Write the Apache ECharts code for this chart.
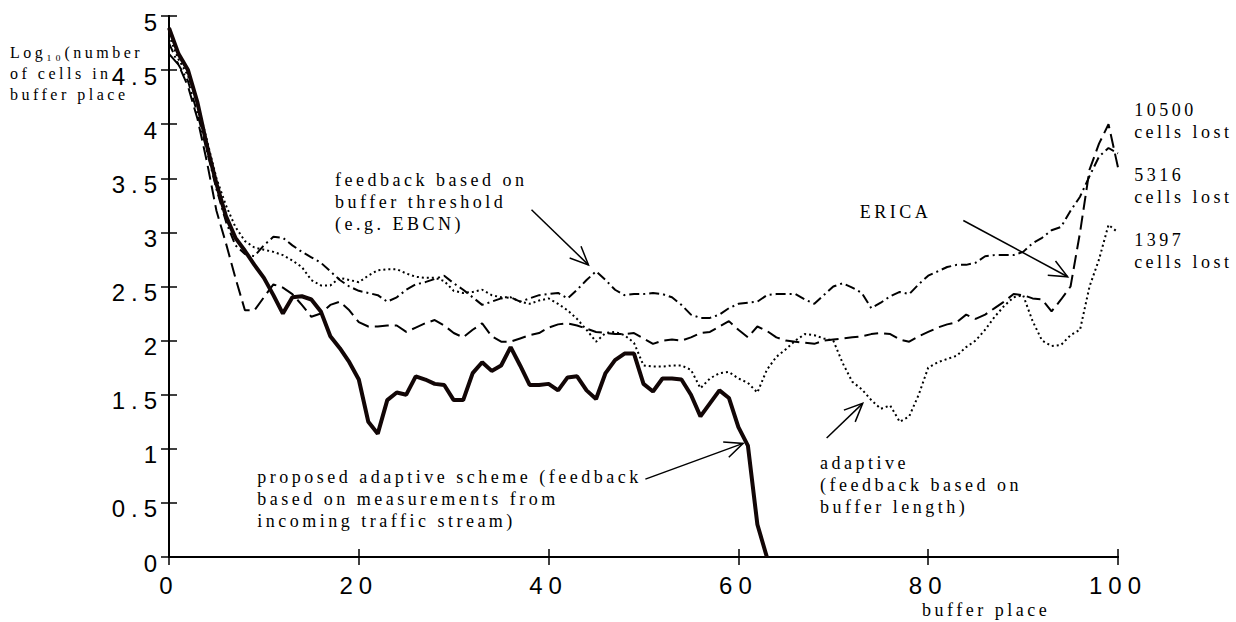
<!DOCTYPE html>
<html lang="en">
<head>
<meta charset="UTF-8">
<title>buffer place</title>
<script src="https://cdn.jsdelivr.net/npm/echarts@6/dist/echarts.min.js"></script>
<style>
  html, body { margin: 0; padding: 0; background: #fff; }
  #main { width: 1236px; height: 622px; }
  /* the original figure has wide letter spacing everywhere */
  #main text { letter-spacing: 3.5px; }
  #main text[style*="Liberation Sans"] { letter-spacing: 6px; }
</style>
</head>
<body>
<div id="main"></div>
<script>
// log10(number of cells) per buffer place, x = index
var proposed = [4.89, 4.65, 4.5, 4.2, 3.8, 3.45, 3.15, 2.95, 2.83, 2.7, 2.58, 2.42, 2.25, 2.4, 2.41,
  2.38, 2.27, 2.04, 1.93, 1.8, 1.64, 1.25, 1.14, 1.45, 1.52, 1.5, 1.67, 1.64, 1.6, 1.59,
  1.45, 1.45, 1.7, 1.8, 1.72, 1.77, 1.94, 1.77, 1.59, 1.59, 1.6, 1.54, 1.66, 1.67, 1.54,
  1.46, 1.7, 1.82, 1.88, 1.88, 1.6, 1.53, 1.65, 1.65, 1.64, 1.5, 1.3, 1.42, 1.54, 1.47,
  1.2, 1.03, 0.3, 0];
var adaptive = [4.82, 4.6, 4.45, 4.2, 3.85, 3.5, 3.25, 3.05, 2.92, 2.86, 2.84, 2.82, 2.79, 2.74, 2.68,
  2.56, 2.51, 2.51, 2.58, 2.56, 2.54, 2.6, 2.65, 2.66, 2.66, 2.62, 2.59, 2.58, 2.58, 2.55,
  2.46, 2.44, 2.45, 2.47, 2.42, 2.4, 2.4, 2.36, 2.34, 2.37, 2.39, 2.34, 2.28, 2.2, 2.1,
  1.99, 2.07, 2.08, 2.05, 1.98, 1.77, 1.76, 1.76, 1.77, 1.77, 1.73, 1.56, 1.65, 1.7, 1.71,
  1.65, 1.61, 1.52, 1.73, 1.85, 1.92, 2.0, 2.06, 2.05, 2.02, 2.0, 1.79, 1.62, 1.55, 1.45,
  1.37, 1.4, 1.25, 1.3, 1.5, 1.75, 1.8, 1.83, 1.86, 1.94, 2.0, 2.1, 2.22, 2.32, 2.4,
  2.42, 2.18, 2.0, 1.95, 1.96, 2.05, 2.1, 2.5, 2.75, 3.07, 3.0];
var threshold = [4.75, 4.55, 4.4, 4.1, 3.75, 3.4, 3.1, 2.88, 2.8, 2.78, 2.88, 2.96, 2.95, 2.88, 2.82,
  2.77, 2.72, 2.64, 2.56, 2.5, 2.46, 2.44, 2.42, 2.36, 2.4, 2.47, 2.52, 2.54, 2.57, 2.6,
  2.53, 2.47, 2.4, 2.33, 2.36, 2.39, 2.4, 2.36, 2.39, 2.42, 2.43, 2.44, 2.39, 2.47, 2.56,
  2.64, 2.56, 2.47, 2.42, 2.43, 2.43, 2.44, 2.43, 2.4, 2.33, 2.24, 2.21, 2.21, 2.24, 2.3,
  2.34, 2.35, 2.36, 2.42, 2.43, 2.43, 2.43, 2.38, 2.34, 2.42, 2.5, 2.53, 2.49, 2.44, 2.3,
  2.35, 2.41, 2.45, 2.43, 2.52, 2.6, 2.64, 2.68, 2.7, 2.7, 2.72, 2.78, 2.79, 2.79, 2.79,
  2.82, 2.9, 2.95, 3.02, 3.05, 3.2, 3.33, 3.52, 3.7, 3.78, 3.73];
var erica = [4.65, 4.55, 4.35, 4.05, 3.65, 3.2, 2.9, 2.58, 2.28, 2.28, 2.4, 2.52, 2.49, 2.43, 2.33,
  2.22, 2.25, 2.33, 2.36, 2.28, 2.17, 2.13, 2.13, 2.14, 2.14, 2.08, 2.12, 2.16, 2.19, 2.14,
  2.07, 2.03, 2.1, 2.16, 2.04, 1.99, 1.99, 2.02, 2.05, 2.07, 2.12, 2.15, 2.16, 2.14, 2.11,
  2.08, 2.07, 2.06, 2.06, 2.07, 2.02, 1.97, 2.0, 2.01, 2.0, 2.03, 2.07, 2.08, 2.13, 2.18,
  2.1, 2.03, 2.13, 2.09, 2.03, 2.0, 1.99, 1.98, 1.97, 2.0, 2.01, 2.02, 2.03, 2.04, 2.06,
  2.07, 2.06, 2.01, 1.99, 2.04, 2.08, 2.12, 2.15, 2.17, 2.24, 2.2, 2.24, 2.3, 2.36, 2.43,
  2.42, 2.39, 2.38, 2.27, 2.38, 2.5, 3.0, 3.58, 3.82, 4.0, 3.6];

// annotations: text, anchor [x, y] of first line (data units)
var noteTexts = ['feedback based on\nbuffer threshold\n(e.g. EBCN)', 'ERICA',
  'proposed adaptive scheme (feedback\nbased on measurements from\nincoming traffic stream)',
  'adaptive\n(feedback based on\nbuffer length)',
  '10500\ncells lost', '5316\ncells lost', '1397\ncells lost'];
var notePos = [[17.5, 3.48], [72.8, 3.19], [9.3, 0.74], [68.6, 0.87], [101.7, 4.13], [101.7, 3.53], [101.7, 2.93]];
// arrows: [from, to] in data units
var arrows = [
  [[38.2, 3.21], [44.2, 2.7]],
  [[83.7, 3.11], [94.7, 2.59]],
  [[50.2, 0.72], [60.5, 1.05]],
  [[69.3, 1.1], [73.1, 1.42]]
];
var yTitle = 'Log\u2081\u2080(number\nof cells in\nbuffer place';
var xTitle = 'buffer place';

function pairs(arr) {
  return arr.map(function (v, i) { return [i, v]; });
}

var serif = 'Liberation Serif';
var sans = 'Liberation Sans';

var chart = echarts.init(document.getElementById('main'), null, { renderer: 'svg' });

var frameAxis = {
  axisLine: { show: true, lineStyle: { color: '#000', width: 2 } },
  axisTick: { show: true, inside: true, length: 8, lineStyle: { color: '#000', width: 1.5 } },
  axisLabel: { show: false },
  splitLine: { show: false }
};

var option = {
  backgroundColor: '#fff',
  animation: false,
  grid: { left: 169, right: 118, top: 16, bottom: 65 },
  xAxis: [{
    type: 'value', min: 0, max: 100, interval: 20, position: 'bottom',
    axisLine: { show: true, onZero: false, lineStyle: { color: '#000', width: 2 } },
    axisTick: { show: true, inside: true, length: 8, lineStyle: { color: '#000', width: 1.5 } },
    axisLabel: { color: '#000', fontFamily: sans, fontSize: 24, margin: 16 },
    splitLine: { show: false }
  }, Object.assign({ type: 'value', min: 0, max: 100, interval: 20, position: 'top' }, frameAxis)],
  yAxis: [{
    type: 'value', min: 0, max: 5, interval: 0.5, position: 'left',
    axisLine: { show: true, onZero: false, lineStyle: { color: '#000', width: 2 } },
    axisTick: { show: true, inside: true, length: 8, lineStyle: { color: '#000', width: 1.5 } },
    axisLabel: { color: '#000', fontFamily: sans, fontSize: 24, margin: 6, verticalAlign: 'top', lineHeight: 12 },
    splitLine: { show: false }
  }, Object.assign({ type: 'value', min: 0, max: 5, interval: 0.5, position: 'right' }, frameAxis)],
  series: [
    {
      name: 'proposed', type: 'line', data: pairs(proposed), symbol: 'none',
      lineStyle: { color: '#120606', width: 4, type: 'solid' }, z: 5
    },
    {
      name: 'adaptive', type: 'line', data: pairs(adaptive), symbol: 'none',
      lineStyle: { color: '#000', width: 2, type: [2, 3] }
    },
    {
      name: 'threshold', type: 'line', data: pairs(threshold), symbol: 'none',
      lineStyle: { color: '#000', width: 2, type: [10, 4, 2, 4] }
    },
    {
      name: 'ERICA', type: 'line', data: pairs(erica), symbol: 'none',
      lineStyle: { color: '#000', width: 2, type: [14, 6] }
    }
  ]
};
chart.setOption(option);

function px(p) {
  return chart.convertToPixel({ gridIndex: 0 }, p);
}

var graphics = [];
noteTexts.forEach(function (t, i) {
  var p = px(notePos[i]);
  graphics.push({
    type: 'text', x: p[0], y: p[1] - 11,
    style: { text: t, fontFamily: serif, fontSize: 18, lineHeight: 22, fill: '#000', align: 'left', verticalAlign: 'top' }
  });
});
arrows.forEach(function (a) {
  var s = px(a[0]), e = px(a[1]);
  var ang = Math.atan2(e[1] - s[1], e[0] - s[0]);
  var len = 20, spread = 0.42;
  var h1 = [e[0] - len * Math.cos(ang - spread), e[1] - len * Math.sin(ang - spread)];
  var h2 = [e[0] - len * Math.cos(ang + spread), e[1] - len * Math.sin(ang + spread)];
  graphics.push({ type: 'line', shape: { x1: s[0], y1: s[1], x2: e[0], y2: e[1] }, style: { stroke: '#000', lineWidth: 1.5 } });
  graphics.push({ type: 'polyline', shape: { points: [h1, e, h2] }, style: { stroke: '#000', fill: null, lineWidth: 1.5 } });
});
// axis titles
graphics.push({
  type: 'text', left: 10, top: 42,
  style: { text: yTitle, fontFamily: serif, fontSize: 16, lineHeight: 21, fill: '#000' }
});
graphics.push({
  type: 'text', left: 922, top: 601,
  style: { text: xTitle, fontFamily: serif, fontSize: 18, fill: '#000' }
});
chart.setOption({ graphic: graphics });
</script>
</body>
</html>
